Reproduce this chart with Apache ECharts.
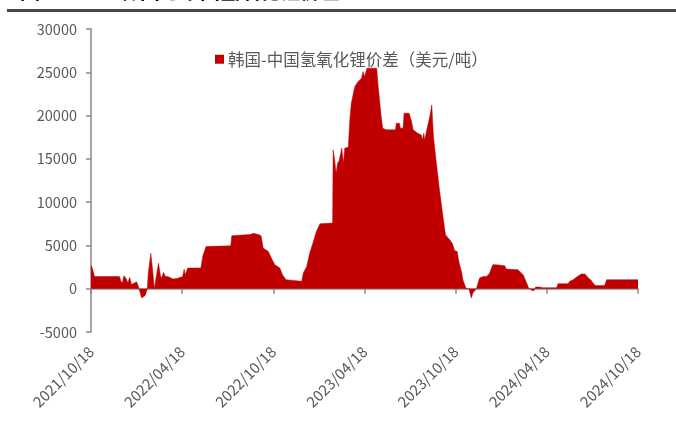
<!DOCTYPE html>
<html><head><meta charset="utf-8">
<script src="https://cdn.jsdelivr.net/npm/echarts@6/dist/echarts.min.js"></script>
<style>html,body{margin:0;padding:0;background:#fff}#c{width:676px;height:435px}</style>
</head><body><div id="c"></div>
<script>
var seriesName = '韩国-中国氢氧化锂价差（美元/吨）';
var tickLabels = ['2021/10/18','2022/04/18','2022/10/18','2023/04/18','2023/10/18','2024/04/18','2024/10/18'];
var dates = ['2021/10/18','2021/10/21','2021/10/25','2021/12/14','2021/12/17','2021/12/20','2021/12/23','2021/12/27','2021/12/31','2022/01/04',
'2022/01/08','2022/01/12','2022/01/18','2022/01/22','2022/01/26','2022/01/28','2022/02/05','2022/02/09','2022/02/11','2022/02/16',
'2022/02/20','2022/02/23','2022/02/26','2022/03/01','2022/03/05','2022/03/07','2022/03/11','2022/03/15','2022/03/20','2022/03/30',
'2022/04/09','2022/04/19','2022/04/22','2022/04/24','2022/04/29','2022/05/25','2022/05/29','2022/06/05','2022/07/24','2022/07/26',
'2022/09/03','2022/09/08','2022/09/19','2022/09/24','2022/09/28','2022/10/08','2022/10/14','2022/10/18','2022/10/21','2022/10/31',
'2022/11/06','2022/11/13','2022/11/27','2022/12/14','2022/12/17','2022/12/24','2022/12/30','2023/01/06','2023/01/13','2023/01/20',
'2023/02/15','2023/02/16','2023/02/19','2023/02/22','2023/02/25','2023/02/28','2023/03/03','2023/03/06','2023/03/09','2023/03/16',
'2023/03/19','2023/03/22','2023/03/29','2023/04/05','2023/04/12','2023/04/15','2023/04/18','2023/04/23','2023/05/12','2023/05/15',
'2023/05/21','2023/05/24','2023/05/31','2023/06/19','2023/06/21','2023/06/27','2023/06/29','2023/07/04','2023/07/06','2023/07/16',
'2023/07/21','2023/07/24','2023/08/03','2023/08/10','2023/08/12','2023/08/15','2023/08/17','2023/08/21','2023/08/27','2023/08/31',
'2023/09/04','2023/09/09','2023/09/16','2023/09/23','2023/09/28','2023/10/06','2023/10/11','2023/10/16','2023/10/21','2023/10/25',
'2023/10/30','2023/11/02','2023/11/08','2023/11/14','2023/11/19','2023/11/22','2023/11/29','2023/12/05','2023/12/12','2023/12/19',
'2023/12/25','2024/01/01','2024/01/08','2024/01/25','2024/01/28','2024/02/21','2024/03/01','2024/03/08','2024/03/12','2024/03/17',
'2024/03/22','2024/03/26','2024/03/28','2024/04/03','2024/04/10','2024/05/07','2024/05/10','2024/05/30','2024/06/03','2024/06/10',
'2024/06/17','2024/06/26','2024/07/03','2024/07/10','2024/07/15','2024/07/19','2024/07/24','2024/08/12','2024/08/16','2024/10/18'];
var values = [2750,2300,1420,1420,900,660,1500,1200,700,1300,
500,300,800,200,0,-1070,-770,0,1800,4100,
2000,0,0,2960,1500,1200,1880,1420,1400,1120,
1200,1420,2270,1600,2390,2390,3800,4880,4950,6120,
6270,6400,6250,6100,4700,4300,3540,3400,2770,2390,
1600,1040,960,850,1800,2580,4120,5270,6620,7500,
7580,16040,14890,13350,14500,14800,16240,14500,16240,16350,
19500,21430,23350,23920,24310,25080,24500,25470,25470,23350,
19880,18540,18350,18350,19120,19120,18540,18540,20270,20270,
19310,18350,17960,17770,17190,17960,17190,18350,19880,21230,
17580,14890,11420,8340,6230,5650,5270,4400,4300,2960,
1900,1040,80,0,-1070,-500,0,1230,1420,1420,
1800,2770,2770,2650,2270,2190,1620,660,80,-115,
-270,200,350,200,115,115,580,580,850,1040,
1350,1700,1700,1230,1000,660,380,380,1040,1040];

function monthsFromStart(s) {
  var p = s.split('/').map(Number);
  return (p[0] - 2021) * 12 + (p[1] - 10) + (p[2] - 18) / 30.4;
}
var seriesData = dates.map(function (d, i) { return [monthsFromStart(d), values[i]]; });

var chart = echarts.init(document.getElementById('c'), null, {renderer: 'canvas'});
var red = '#C00000';
var axisGray = '#898989';
var textGray = '#595959';
var font = '"Microsoft YaHei","Noto Sans CJK SC","Noto Sans",sans-serif';
chart.setOption({
  animation: false,
  backgroundColor: '#ffffff',
  graphic: [
    {type: 'rect', left: 7, top: 9, shape: {width: 669, height: 3}, style: {fill: '#474747'}},
    {type: 'text', left: 20, top: -19, style: {text: '图', font: 'bold 20px ' + font, fill: '#000'}},
    {type: 'text', left: 120, top: -19, style: {text: '韩国与中国氢氧化锂价差', font: 'bold 20px ' + font, fill: '#000'}}
  ],
  legend: {
    left: 210, top: 46,
    itemWidth: 9, itemHeight: 9, itemGap: 10, itemStyle: {borderWidth: 0},
    icon: 'rect',
    textStyle: {color: textGray, fontSize: 16.5, fontFamily: font, padding: [0, 0, 0, -1]},
    data: [{name: seriesName, itemStyle: {color: red}}]
  },
  grid: {left: 91, right: 38, top: 29, bottom: 103, containLabel: false},
  xAxis: [{
    type: 'value', min: 0, max: 36, interval: 6,
    axisLine: {show: true, onZero: true, lineStyle: {color: axisGray, width: 1.5}},
    axisTick: {show: true, length: 5, lineStyle: {color: axisGray, width: 1.5}},
    axisLabel: {show: false},
    splitLine: {show: false}
  }, {
    type: 'value', min: 0, max: 36, interval: 6, position: 'bottom',
    axisLine: {show: false, onZero: false},
    axisTick: {show: false},
    axisLabel: {
      show: true, rotate: 45, margin: 17, color: textGray, fontSize: 15, fontFamily: font,
      formatter: function (v) { return tickLabels[Math.round(v / 6)] || ''; }
    },
    splitLine: {show: false}
  }],
  yAxis: {
    type: 'value', min: -5000, max: 30000, interval: 5000,
    axisLine: {show: true, lineStyle: {color: axisGray, width: 1.5}},
    axisTick: {show: true, length: 5, lineStyle: {color: axisGray, width: 1.5}},
    axisLabel: {color: textGray, fontSize: 14.5, fontFamily: font, margin: 14,
      formatter: function (v) { return String(v); }},
    splitLine: {show: false}
  },
  series: [{
    name: seriesName, type: 'line', xAxisIndex: 0,
    data: seriesData, showSymbol: false, symbol: 'none',
    lineStyle: {color: red, width: 0.5},
    itemStyle: {color: red},
    areaStyle: {color: red, opacity: 1, origin: 0},
    z: 1
  }]
});
</script></body></html>
